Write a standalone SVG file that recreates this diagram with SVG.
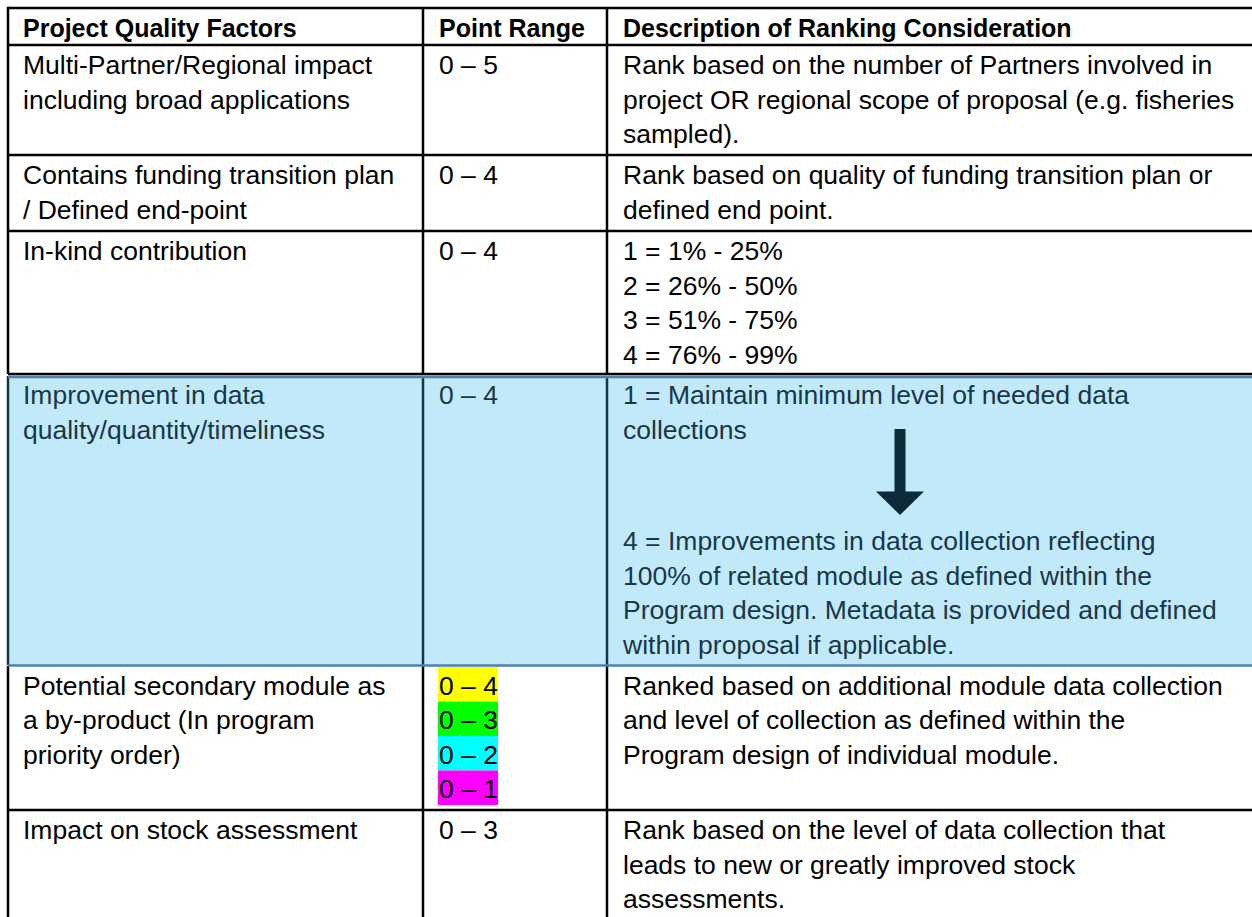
<svg xmlns="http://www.w3.org/2000/svg" width="1252" height="917" viewBox="0 0 1252 917">
<style>
text{font-family:"Liberation Sans",Arial,sans-serif;font-size:26.5px;fill:#000}
.h{font-weight:bold;font-size:25px}
.b text{fill:#17374a}
.ln{stroke:#000;stroke-width:2.5;fill:none}
.bl{stroke:#16344a;stroke-width:2.5;fill:none}
.bb{stroke:#4f7fb0;stroke-width:2.5;fill:none}
</style>
<rect x="0" y="0" width="1252" height="917" fill="#fff"/>
<g id="blue-bg"><rect x="8" y="375" width="1244" height="290.5" fill="#c2e9f9"/></g>
<g id="grid">
<line class="ln" x1="8" y1="8" x2="1252" y2="8"/>
<line class="ln" x1="8" y1="45" x2="1252" y2="45"/>
<line class="ln" x1="8" y1="155" x2="1252" y2="155"/>
<line class="ln" x1="8" y1="231" x2="1252" y2="231"/>
<line class="ln" x1="8" y1="374" x2="1252" y2="374"/>
<line class="ln" x1="8" y1="810" x2="1252" y2="810"/>
<line class="ln" x1="8" y1="6.75" x2="8" y2="374"/>
<line class="ln" x1="423" y1="8" x2="423" y2="374"/>
<line class="ln" x1="607" y1="8" x2="607" y2="374"/>
<line class="bl" x1="8" y1="376" x2="8" y2="665"/>
<line class="bl" x1="423" y1="376" x2="423" y2="665"/>
<line class="bl" x1="607" y1="376" x2="607" y2="665"/>
<line class="ln" x1="8" y1="666" x2="8" y2="917"/>
<line class="ln" x1="423" y1="666" x2="423" y2="917"/>
<line class="ln" x1="607" y1="666" x2="607" y2="917"/>
<line class="bb" x1="8" y1="377" x2="1252" y2="377"/>
<line class="bb" x1="8" y1="665.5" x2="1252" y2="665.5"/>
</g>
<g id="header">
<text class="h" x="23" y="37">Project Quality Factors</text>
<text class="h" x="439" y="37">Point Range</text>
<text class="h" x="623" y="37">Description of Ranking Consideration</text>
</g>
<g id="row-multi-partner">
<text x="23" y="74">Multi-Partner/Regional impact</text>
<text x="23" y="108.5">including broad applications</text>
<text x="439" y="74">0 – 5</text>
<text x="623" y="74">Rank based on the number of Partners involved in</text>
<text x="623" y="108.5">project OR regional scope of proposal (e.g. fisheries</text>
<text x="623" y="143">sampled).</text>
</g>
<g id="row-funding">
<text x="23" y="184">Contains funding transition plan</text>
<text x="23" y="218.5">/ Defined end-point</text>
<text x="439" y="184">0 – 4</text>
<text x="623" y="184">Rank based on quality of funding transition plan or</text>
<text x="623" y="218.5">defined end point.</text>
</g>
<g id="row-inkind">
<text x="23" y="260">In-kind contribution</text>
<text x="439" y="260">0 – 4</text>
<text x="623" y="260">1 = 1% - 25%</text>
<text x="623" y="294.5">2 = 26% - 50%</text>
<text x="623" y="329">3 = 51% - 75%</text>
<text x="623" y="363.5">4 = 76% - 99%</text>
</g>
<g id="row-improvement" class="b">
<text x="23" y="404">Improvement in data</text>
<text x="23" y="438.5">quality/quantity/timeliness</text>
<text x="439" y="404">0 – 4</text>
<text x="623" y="404">1 = Maintain minimum level of needed data</text>
<text x="623" y="438.5">collections</text>
<text x="623" y="550">4 = Improvements in data collection reflecting</text>
<text x="623" y="584.5">100% of related module as defined within the</text>
<text x="623" y="619">Program design. Metadata is provided and defined</text>
<text x="623" y="653.5">within proposal if applicable.</text>
</g>
<g id="arrow">
<rect x="894.5" y="429" width="11" height="63" fill="#0b2a3a"/>
<polygon points="876,491.5 924,491.5 900,515" fill="#0b2a3a"/>
</g>
<g id="row-secondary">
<text x="23" y="694.5">Potential secondary module as</text>
<text x="23" y="729">a by-product (In program</text>
<text x="23" y="763.5">priority order)</text>
<rect x="438" y="667" width="60" height="34.5" fill="#ffff00"/>
<rect x="438" y="701.5" width="60" height="34.5" fill="#00ff00"/>
<rect x="438" y="736" width="60" height="34.5" fill="#00ffff"/>
<rect x="438" y="770.5" width="60" height="34.5" fill="#ff00ff"/>
<text x="439" y="694.5">0 – 4</text>
<text x="439" y="729">0 – 3</text>
<text x="439" y="763.5">0 – 2</text>
<text x="439" y="798">0 – 1</text>
<text x="623" y="694.5">Ranked based on additional module data collection</text>
<text x="623" y="729">and level of collection as defined within the</text>
<text x="623" y="763.5">Program design of individual module.</text>
</g>
<g id="row-stock">
<text x="23" y="839">Impact on stock assessment</text>
<text x="439" y="839">0 – 3</text>
<text x="623" y="839">Rank based on the level of data collection that</text>
<text x="623" y="873.5">leads to new or greatly improved stock</text>
<text x="623" y="908">assessments.</text>
</g>
</svg>
